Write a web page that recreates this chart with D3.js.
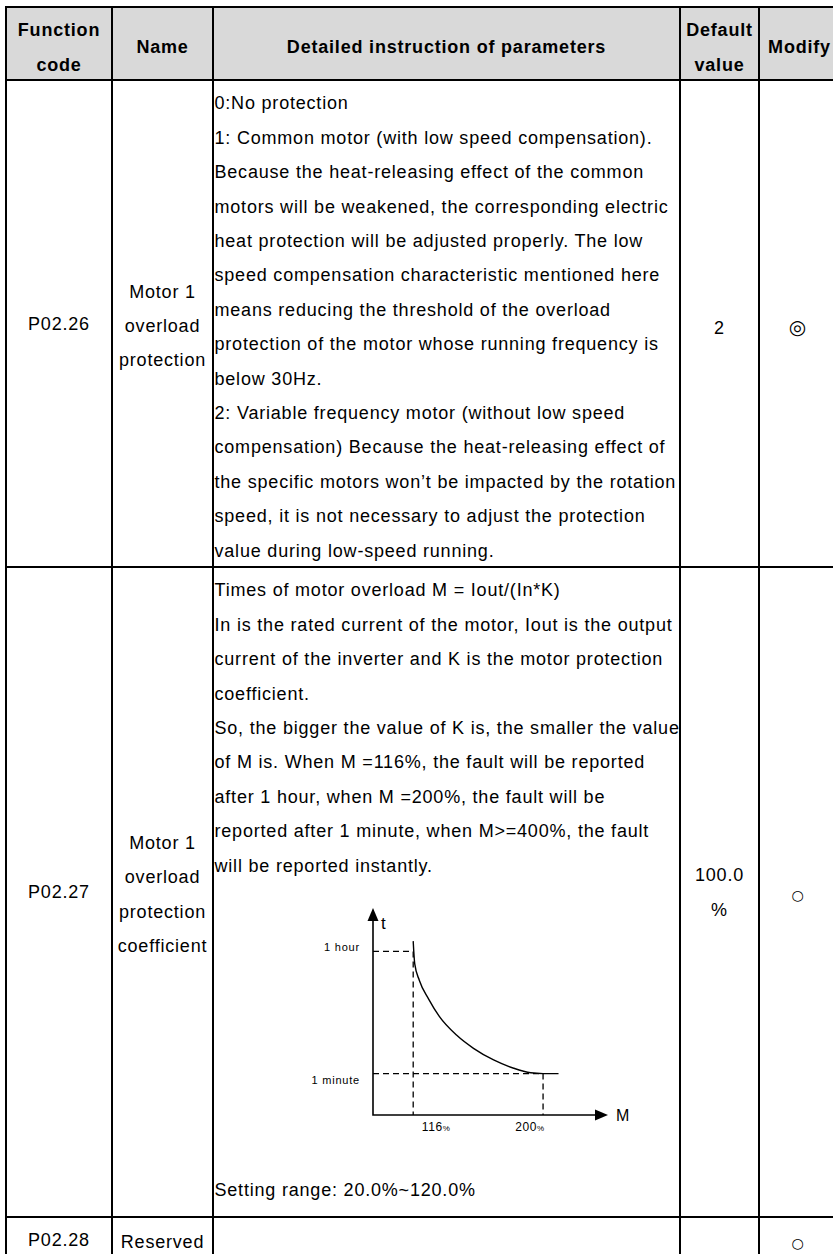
<!DOCTYPE html>
<html lang="en">
<head>
<meta charset="UTF-8">
<title>Motor overload protection parameters</title>
<script src="https://cdn.jsdelivr.net/npm/d3@7"></script>
<style>
  body { margin: 0; background: #fff; }
  svg text { font-family: "Liberation Sans", Arial, sans-serif; fill: #000; }
</style>
</head>
<body>
<svg id="page" width="833" height="1254"></svg>
<script>
// table content
var headers  = [["Function", "code"], ["Name"], ["Detailed instruction of parameters"], ["Default", "value"], ["Modify"]];
var codes    = ["P02.26", "P02.27", "P02.28"];
var names    = [["Motor 1", "overload", "protection"],
                ["Motor 1", "overload", "protection", "coefficient"],
                ["Reserved"]];
var details  = [[
  "0:No protection",
  "1: Common motor (with low speed compensation).",
  "Because the heat-releasing effect of the common",
  "motors will be weakened, the corresponding electric",
  "heat protection will be adjusted properly. The low",
  "speed compensation characteristic mentioned here",
  "means reducing the threshold of the overload",
  "protection of the motor whose running frequency is",
  "below 30Hz.",
  "2: Variable frequency motor (without low speed",
  "compensation) Because the heat-releasing effect of",
  "the specific motors won\u2019t be impacted by the rotation",
  "speed, it is not necessary to adjust the protection",
  "value during low-speed running."
], [
  "Times of motor overload M = Iout/(In*K)",
  "In is the rated current of the motor, Iout is the output",
  "current of the inverter and K is the motor protection",
  "coefficient.",
  "So, the bigger the value of K is, the smaller the value",
  "of M is. When M =116%, the fault will be reported",
  "after 1 hour, when M =200%, the fault will be",
  "reported after 1 minute, when M>=400%, the fault",
  "will be reported instantly."
], []];
var rangeText = ["", "Setting range: 20.0%~120.0%", ""];
var defaults  = [["2"], ["100.0", "%"], []];
var modify    = ["\u25CE", "\u25CB", "\u25CB"];

// overload time curve (M in %, t in relative height units)
var curveM = [116, 117, 120, 126, 133, 144, 155, 168, 181, 192, 200, 210];
var curveT = [84, 73, 65, 56, 47.5, 38.6, 32.2, 26.6, 22.6, 20.4, 20, 20];
var levelNames = ["1 hour", "1 minute"];
var levelT     = [79, 20];
var levelM     = [116, 200];
var tickNames  = ["116", "200"];

// layout
var colX = [6, 112, 213, 680, 759, 840];
var rowY = [7, 80, 567, 1217, 1262];
var lineH = 34.4;

var svg = d3.select("#page");

// header background
svg.append("rect")
  .attr("x", colX[0]).attr("y", rowY[0])
  .attr("width", colX[5] - colX[0]).attr("height", rowY[1] - rowY[0])
  .attr("fill", "#d9d9d9");

function cx(i) { return (colX[i] + colX[i + 1]) / 2; }

function block(g, lines, x, yc, anchor, size, weight) {
  var n = lines.length;
  g.selectAll(null).data(lines).enter().append("text")
    .attr("x", x)
    .attr("y", function(d, i) { return yc + (i - (n - 1) / 2) * lineH; })
    .attr("dy", "0.36em")
    .attr("text-anchor", anchor)
    .attr("font-size", size)
    .attr("font-weight", weight || "normal")
    .attr("letter-spacing", "0.8px")
    .text(function(d) { return d; });
}

// header text
var hdr = svg.append("g");
headers.forEach(function(h, i) {
  block(hdr, h, cx(i), 47, "middle", 18, "bold");
});

// body rows
var body = svg.append("g");
codes.forEach(function(c, r) {
  var top = rowY[r + 1], bot = rowY[r + 2], mid = (top + bot) / 2;
  block(body, [c], cx(0), mid, "middle", 18);
  block(body, names[r], cx(1), mid + 2, "middle", 18);
  details[r].forEach(function(d, k) {
    block(body, [d], colX[2] + 1.5, top + 23 + k * lineH, "start", 18);
  });
  if (rangeText[r]) block(body, [rangeText[r]], colX[2] + 1.5, bot - 27, "start", 18);
  if (defaults[r].length) block(body, defaults[r], cx(3), mid + (r == 0 ? 4 : 0), "middle", 18);
  body.append("text")
    .attr("x", cx(4) - 2).attr("y", mid + 3).attr("dy", "0.36em")
    .attr("text-anchor", "middle")
    .attr("font-family", "DejaVu Sans")
    .style("font-family", "'DejaVu Sans', sans-serif")
    .attr("font-size", r == 0 ? 20 : 14)
    .text(modify[r]);
});

// grid lines
var grid = svg.append("g").attr("stroke", "#000").attr("stroke-width", 2);
grid.selectAll(".v").data(colX).enter().append("line")
  .attr("x1", function(d) { return d; }).attr("x2", function(d) { return d; })
  .attr("y1", rowY[0]).attr("y2", rowY[4]);
grid.selectAll(".h").data(rowY.slice(0, 4)).enter().append("line")
  .attr("x1", colX[0] - 1).attr("x2", colX[5])
  .attr("y1", function(d) { return d; }).attr("y2", function(d) { return d; });

// overload chart inside P02.27
var xScale = d3.scaleLinear().domain([90, 242]).range([373, 608]);
var yScale = d3.scaleLinear().domain([0, 100]).range([1115, 908]);
var chart = svg.append("g");
var x0 = xScale(90), y0 = yScale(0), xe = xScale(242), ye = yScale(100);

// dashed guides
var guides = chart.append("g")
  .attr("stroke", "#000").attr("stroke-width", 1.3).attr("stroke-dasharray", "6 4").attr("fill", "none");
levelT.forEach(function(t, i) {
  guides.append("line").attr("x1", x0).attr("x2", xScale(levelM[i]))
    .attr("y1", yScale(t)).attr("y2", yScale(t));
  guides.append("line").attr("x1", xScale(levelM[i])).attr("x2", xScale(levelM[i]))
    .attr("y1", yScale(t)).attr("y2", y0);
});

// axes with arrow heads
chart.append("path")
  .attr("d", "M" + x0 + "," + (ye + 11) + "V" + y0 + "H" + (xe - 11))
  .attr("fill", "none").attr("stroke", "#000").attr("stroke-width", 1.6);
chart.append("path")
  .attr("d", "M" + x0 + "," + ye + "L" + (x0 - 5.5) + "," + (ye + 13) + "L" + (x0 + 5.5) + "," + (ye + 13) + "Z")
  .attr("fill", "#000");
chart.append("path")
  .attr("d", "M" + xe + "," + y0 + "L" + (xe - 13) + "," + (y0 - 5.5) + "L" + (xe - 13) + "," + (y0 + 5.5) + "Z")
  .attr("fill", "#000");

// curve
var line = d3.line()
  .x(function(d, i) { return xScale(curveM[i]); })
  .y(function(d) { return yScale(d); })
  .curve(d3.curveMonotoneX);
chart.append("path").datum(curveT)
  .attr("d", line)
  .attr("fill", "none").attr("stroke", "#000").attr("stroke-width", 1.4);

// axis titles
chart.append("text").attr("x", x0 + 8).attr("y", ye + 15).attr("dy", "0.36em")
  .attr("font-size", 17).text("t");
chart.append("text").attr("x", xe + 8).attr("y", y0).attr("dy", "0.36em")
  .attr("font-size", 16).text("M");

// level labels
var levelDy = [-4, 6];
chart.selectAll(".lvl").data(levelNames).enter().append("text")
  .attr("x", x0 - 13)
  .attr("y", function(d, i) { return yScale(levelT[i]) + levelDy[i]; })
  .attr("dy", "0.36em")
  .attr("text-anchor", "end")
  .attr("font-size", 11)
  .attr("letter-spacing", "0.8px")
  .text(function(d) { return d; });

// tick labels
var tickDx = [23, -13];
tickNames.forEach(function(t, i) {
  var tx = chart.append("text")
    .attr("x", xScale(levelM[i]) + tickDx[i])
    .attr("y", y0 + 12).attr("dy", "0.36em")
    .attr("text-anchor", "middle")
    .attr("font-size", 12)
    .attr("letter-spacing", "0.6px");
  tx.append("tspan").text(t);
  tx.append("tspan").attr("font-size", 8).text("%");
});
</script>
</body>
</html>
